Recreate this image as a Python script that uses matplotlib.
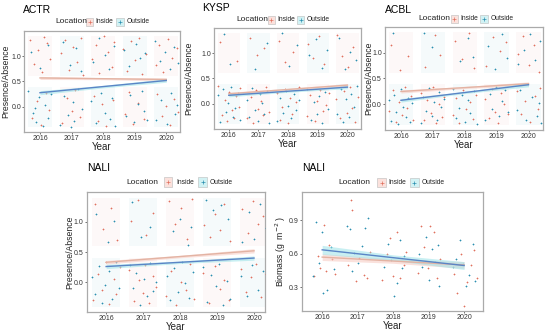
import matplotlib
matplotlib.use("Agg")
import matplotlib.pyplot as plt
from matplotlib.patches import Rectangle

plt.rcParams['font.family'] = ['Liberation Sans', 'DejaVu Sans']

years = [2016, 2017, 2018, 2019, 2020]
inside_col = '#e0705e'
outside_col = '#2a8fb0'

# ---------------- ACTR (presence / absence, jittered) ----------------
actr_in_x = [2015.68, 2015.82, 2015.95, 2016.07, 2016.21, 2016.33, 2016.14, 2015.74, 2015.90, 2016.03, 2016.18, 2016.30,
             2016.66, 2016.79, 2016.92, 2017.05, 2017.17, 2017.29, 2017.36, 2016.71, 2016.86, 2017.01, 2017.12, 2017.26,
             2017.64, 2017.77, 2017.88, 2018.02, 2018.14, 2018.27, 2018.35, 2017.70, 2017.84, 2017.97, 2018.10, 2018.31,
             2018.62, 2018.75, 2018.89, 2019.01, 2019.13, 2019.24, 2019.37, 2018.68, 2018.81, 2018.96, 2019.09, 2019.28,
             2019.66, 2019.78, 2019.91, 2020.06, 2020.19, 2020.33, 2019.72, 2019.85, 2019.99, 2020.12, 2020.25, 2020.36]
actr_in_y = [1.32, 0.85, 1.12, 0.68, 1.25, 0.94, 1.38, -0.22, 0.11, -0.35, 0.27, -0.05,
             1.05, 1.31, 0.72, 1.18, 0.88, 1.36, 0.63, -0.31, 0.18, -0.08, 0.33, -0.19,
             0.95, 1.22, 0.66, 1.39, 1.08, 0.78, 1.27, 0.21, -0.28, 0.05, -0.38, 0.14,
             1.14, 0.71, 1.29, 0.92, 1.36, 0.64, 1.03, -0.14, 0.29, -0.33, 0.08, -0.24,
             0.82, 1.21, 0.69, 1.33, 0.97, 1.16, 0.25, -0.17, 0.02, -0.36, 0.16, -0.09]
actr_out_x = [2015.71, 2015.99, 2016.26, 2015.63, 2015.77, 2015.87, 2015.97, 2016.09, 2016.16, 2016.24, 2016.35, 2015.83,
              2016.73, 2016.94, 2017.13, 2017.31, 2016.62, 2016.76, 2016.89, 2017.03, 2017.09, 2017.21, 2017.33, 2016.98,
              2017.67, 2017.86, 2018.05, 2018.19, 2018.34, 2017.63, 2017.79, 2017.93, 2018.07, 2018.22, 2018.29, 2018.38,
              2018.65, 2018.83, 2019.04, 2019.18, 2019.33, 2018.71, 2018.86, 2018.99, 2019.11, 2019.22, 2019.31, 2019.38,
              2019.64, 2019.81, 2019.95, 2020.11, 2020.24, 2020.37, 2019.69, 2019.83, 2020.02, 2020.15, 2020.28, 2020.34]
actr_out_y = [1.08, 0.76, 1.21, 0.31, -0.12, -0.29, 0.19, -0.37, 0.04, -0.21, 0.26, -0.02,
              1.27, 0.83, 1.15, 0.70, -0.36, 0.22, -0.15, 0.09, -0.27, 0.35, -0.04, -0.39,
              0.89, 1.35, 1.02, 0.74, 1.19, 0.12, -0.32, 0.28, -0.11, -0.24, 0.17, -0.37,
              1.12, 0.81, 1.24, 0.97, 1.05, -0.18, 0.24, -0.30, 0.06, 0.31, -0.08, -0.26,
              1.29, 0.90, 1.07, 0.75, 1.18, 0.86, -0.26, 0.13, -0.34, 0.27, -0.13, 0.04]

# ---------------- KYSP ----------------
kysp_in_x = [2015.72, 2016.28, 2015.64, 2015.76, 2015.86, 2015.94, 2016.02, 2016.10, 2016.17, 2016.23, 2016.33, 2016.38,
             2016.70, 2016.95, 2017.20, 2016.63, 2016.74, 2016.82, 2016.91, 2017.00, 2017.08, 2017.16, 2017.27, 2017.35,
             2017.68, 2017.90, 2018.16, 2017.62, 2017.72, 2017.80, 2017.88, 2017.98, 2018.06, 2018.14, 2018.25, 2018.36,
             2018.66, 2018.84, 2019.03, 2019.22, 2018.62, 2018.74, 2018.90, 2018.99, 2019.08, 2019.17, 2019.29, 2019.37,
             2019.65, 2019.80, 2020.02, 2020.20, 2019.63, 2019.74, 2019.88, 2019.97, 2020.08, 2020.16, 2020.27, 2020.36]
kysp_in_y = [1.21, 0.84, 0.36, -0.21, 0.08, -0.33, 0.24, -0.12, -0.27, 0.15, -0.05, 0.31,
             1.29, 0.97, 1.10, -0.28, 0.14, -0.37, 0.27, -0.09, 0.05, -0.22, 0.33, -0.16,
             1.24, 0.82, 1.02, 0.21, -0.31, -0.06, 0.29, -0.38, 0.11, -0.19, 0.03, 0.34,
             1.18, 0.90, 1.33, 0.78, -0.24, 0.17, -0.34, 0.06, 0.28, -0.14, -0.03, 0.22,
             1.36, 0.95, 0.73, 1.12, 0.09, -0.28, 0.25, -0.17, 0.33, -0.08, -0.35, 0.14]
kysp_out_x = [2015.85, 2016.05, 2015.62, 2015.70, 2015.80, 2015.90, 2015.99, 2016.08, 2016.14, 2016.21, 2016.30, 2016.37,
              2016.88, 2017.30, 2016.61, 2016.69, 2016.78, 2016.87, 2016.97, 2017.05, 2017.12, 2017.19, 2017.28, 2017.37,
              2017.78, 2018.04, 2018.30, 2017.64, 2017.74, 2017.84, 2017.93, 2018.01, 2018.10, 2018.19, 2018.28, 2018.38,
              2018.70, 2018.95, 2019.13, 2019.30, 2018.64, 2018.77, 2018.86, 2018.96, 2019.05, 2019.14, 2019.25, 2019.34,
              2019.70, 2019.92, 2020.10, 2020.30, 2019.66, 2019.78, 2019.86, 2019.95, 2020.04, 2020.13, 2020.22, 2020.33]
kysp_out_y = [1.38, 0.79, 0.18, -0.36, 0.29, -0.15, 0.02, 0.33, -0.25, -0.07, 0.21, -0.31,
              0.68, 1.20, 0.08, -0.25, 0.31, -0.11, -0.34, 0.19, 0.02, -0.20, 0.25, -0.38,
              1.39, 0.74, 1.15, -0.33, 0.12, -0.18, 0.26, -0.04, -0.27, 0.19, -0.12, 0.07,
              0.97, 1.27, 0.71, 1.05, 0.29, -0.32, 0.04, -0.19, 0.15, -0.37, 0.23, -0.10,
              1.30, 0.68, 1.02, 0.86, -0.20, 0.30, -0.35, 0.10, -0.26, 0.19, -0.06, 0.36]

# ---------------- ACBL ----------------
acbl_in_x = [2015.70, 2015.96, 2016.22, 2015.64, 2015.75, 2015.85, 2015.93, 2016.03, 2016.12, 2016.19, 2016.30, 2016.38,
             2016.74, 2017.06, 2017.22, 2016.63, 2016.72, 2016.83, 2016.93, 2017.02, 2017.10, 2017.18, 2017.29, 2017.36,
             2017.68, 2017.90, 2018.12, 2018.28, 2017.63, 2017.74, 2017.83, 2017.96, 2018.05, 2018.16, 2018.25, 2018.35,
             2018.68, 2018.88, 2019.10, 2019.28, 2018.63, 2018.76, 2018.86, 2018.95, 2019.05, 2019.15, 2019.24, 2019.36,
             2019.66, 2019.82, 2020.00, 2020.16, 2020.32, 2019.64, 2019.76, 2019.90, 2020.04, 2020.20, 2020.29, 2020.37]
acbl_in_y = [1.15, 0.66, 0.93, -0.12, 0.27, -0.34, 0.05, -0.21, 0.33, -0.06, 0.16, -0.29,
             0.72, 1.33, 0.95, 0.22, -0.30, 0.09, -0.17, 0.34, -0.36, 0.01, -0.24, 0.14,
             1.22, 0.88, 1.37, 0.71, -0.20, 0.13, -0.35, 0.28, -0.08, 0.04, -0.28, 0.19,
             0.74, 1.29, 1.02, 1.20, 0.11, -0.27, 0.30, -0.14, -0.36, 0.22, 0.00, -0.19,
             0.98, 1.31, 0.76, 1.14, 0.62, 0.25, -0.18, 0.06, -0.33, 0.17, -0.09, 0.32]
acbl_out_x = [2015.75, 2015.62, 2015.69, 2015.78, 2015.86, 2015.92, 2016.00, 2016.07, 2016.15, 2016.22, 2016.29, 2016.35,
              2016.72, 2016.98, 2016.62, 2016.70, 2016.80, 2016.88, 2016.96, 2017.04, 2017.12, 2017.20, 2017.27, 2017.35,
              2017.85, 2018.10, 2018.25, 2017.62, 2017.72, 2017.82, 2017.92, 2018.00, 2018.09, 2018.18, 2018.30, 2018.37,
              2018.72, 2018.94, 2019.16, 2019.33, 2018.65, 2018.78, 2018.87, 2018.97, 2019.07, 2019.17, 2019.26, 2019.35,
              2019.68, 2019.85, 2020.05, 2020.20, 2020.35, 2019.63, 2019.74, 2019.92, 2020.10, 2020.26, 2020.33, 2020.39]
acbl_out_y = [1.37, 0.08, -0.31, 0.19, -0.15, -0.37, 0.29, -0.04, -0.24, 0.12, -0.33, 0.02,
              1.38, 1.10, -0.36, 0.15, -0.12, 0.32, -0.22, 0.05, -0.30, 0.24, -0.05, 0.11,
              0.84, 1.28, 0.92, 0.30, -0.26, -0.06, 0.18, -0.33, 0.09, -0.17, 0.25, -0.38,
              1.13, 0.68, 1.36, 0.90, -0.30, 0.21, -0.09, 0.33, -0.23, 0.07, 0.27, -0.15,
              0.77, 1.05, 1.35, 0.85, 1.22, -0.11, 0.28, -0.30, 0.14, -0.22, 0.02, -0.36]

# ---------------- NALI presence / absence ----------------
nali_in_x = [2015.70, 2015.92, 2016.12, 2016.30, 2015.64, 2015.78, 2015.88, 2016.00, 2016.08, 2016.20, 2016.27, 2016.37,
             2016.66, 2016.86, 2017.08, 2017.26, 2016.62, 2016.75, 2016.90, 2016.99, 2017.06, 2017.17, 2017.28, 2017.36,
             2017.70, 2017.86, 2018.02, 2018.18, 2018.33, 2017.63, 2017.76, 2017.90, 2018.03, 2018.15, 2018.27, 2018.37,
             2018.66, 2018.80, 2018.95, 2019.08, 2019.20, 2019.34, 2018.63, 2018.78, 2018.94, 2019.07, 2019.20, 2019.32,
             2019.67, 2019.83, 2019.98, 2020.12, 2020.25, 2020.36, 2019.64, 2019.79, 2019.93, 2020.06, 2020.18, 2020.32]
nali_in_y = [1.30, 0.88, 1.22, 0.70, -0.29, 0.14, -0.12, 0.33, -0.36, 0.05, -0.20, 0.25,
             1.02, 1.36, 0.78, 1.14, 0.20, -0.31, 0.03, -0.18, 0.29, -0.35, 0.10, -0.08,
             1.34, 0.96, 1.22, 0.71, 1.38, -0.23, 0.18, -0.37, 0.01, -0.13, 0.30, -0.28,
             0.95, 0.74, 1.12, 0.87, 1.30, 0.68, 0.15, -0.34, 0.27, -0.11, 0.04, -0.30,
             1.21, 0.82, 1.35, 0.97, 1.10, 0.73, 0.22, -0.16, 0.08, 0.30, -0.25, 0.13]
nali_out_x = [2015.73, 2016.05, 2016.22, 2015.62, 2015.70, 2015.80, 2015.90, 2015.98, 2016.07, 2016.16, 2016.26, 2016.34,
              2016.70, 2016.95, 2017.20, 2016.64, 2016.73, 2016.82, 2016.92, 2017.02, 2017.10, 2017.18, 2017.27, 2017.35,
              2017.80, 2018.00, 2018.22, 2018.30, 2017.64, 2017.73, 2017.84, 2017.94, 2018.05, 2018.14, 2018.24, 2018.36,
              2018.70, 2018.90, 2019.12, 2019.30, 2018.62, 2018.72, 2018.84, 2018.97, 2019.05, 2019.16, 2019.26, 2019.34,
              2019.68, 2019.86, 2020.00, 2020.16, 2020.32, 2019.65, 2019.80, 2019.95, 2020.10, 2020.24, 2020.35, 2020.38]
nali_out_y = [1.12, 0.66, 1.01, 0.09, -0.20, 0.27, -0.35, -0.05, 0.18, -0.28, 0.34, -0.10,
              1.33, 0.74, 0.92, 0.28, -0.09, 0.15, -0.37, 0.06, -0.23, 0.32, -0.14, 0.01,
              0.84, 1.05, 0.62, 0.92, 0.11, -0.30, 0.24, -0.16, 0.33, -0.02, -0.26, 0.17,
              1.36, 1.20, 1.28, 1.05, 0.25, -0.33, 0.12, -0.06, 0.30, -0.38, 0.02, -0.28,
              0.66, 1.16, 0.71, 1.30, 0.90, 0.10, -0.22, 0.28, -0.12, 0.19, -0.31, 0.04]

# ---------------- NALI biomass ----------------
bio_in_x = [2015.78, 2015.95, 2016.05, 2016.12, 2016.20, 2016.28, 2016.35, 2015.88,
            2016.72, 2016.80, 2016.85, 2016.95, 2017.05, 2017.18, 2017.25, 2017.34,
            2017.70, 2017.82, 2017.90, 2018.00, 2018.10, 2018.20, 2018.30, 2018.35,
            2018.70, 2018.78, 2018.88, 2018.97, 2019.05, 2019.15, 2019.25, 2019.33,
            2019.72, 2019.80, 2019.90, 2020.00, 2020.08, 2020.20, 2020.28, 2020.35]
bio_in_y = [0.40, 0.47, 0.86, 0.45, 0.68, 0.55, 0.42, 0.58,
            0.50, 1.08, 0.99, 0.36, 0.56, 0.41, 0.38, 0.62,
            0.37, 0.60, 0.74, 0.40, 0.79, 0.38, 0.50, 0.62,
            0.43, 0.85, 0.66, 0.47, 0.85, 0.79, 0.38, 0.55,
            0.42, 0.25, 0.60, 0.13, 0.35, 0.50, 0.63, 0.38]
bio_out_x = [2015.75, 2015.82, 2015.91, 2016.00, 2016.02, 2016.15, 2016.24, 2016.32,
             2016.70, 2016.78, 2016.83, 2016.90, 2017.00, 2017.12, 2017.22, 2017.30,
             2017.75, 2017.86, 2017.95, 2018.03, 2018.12, 2018.18, 2018.26, 2018.32,
             2018.72, 2018.82, 2018.92, 2019.00, 2019.10, 2019.18, 2019.27, 2019.30,
             2019.70, 2019.78, 2019.88, 2019.98, 2020.05, 2020.15, 2020.24, 2020.30]
bio_out_y = [0.40, 0.88, 0.52, 0.79, 0.25, 0.28, 0.66, 0.46,
             0.85, 0.82, 0.45, 0.61, 0.52, 0.67, 0.83, 0.92,
             0.48, 0.69, 0.54, 0.22, 0.34, 0.72, 0.47, 0.58,
             0.60, 0.48, 0.75, 0.37, 0.64, 0.53, 0.68, 0.31,
             0.48, 0.55, 0.72, 0.51, 0.31, 0.41, 0.69, 0.36]

# fitted trend (2016, 2018, 2020) and ribbon half-widths
trend_x = [2016, 2018, 2020]
actr_in_fit, actr_in_se = [0.57, 0.555, 0.54], [0.03, 0.02, 0.03]
actr_out_fit, actr_out_se = [0.28, 0.40, 0.52], [0.04, 0.025, 0.035]
kysp_in_fit, kysp_in_se = [0.20, 0.285, 0.37], [0.03, 0.02, 0.03]
kysp_out_fit, kysp_out_se = [0.17, 0.25, 0.33], [0.03, 0.02, 0.03]
acbl_in_fit, acbl_in_se = [0.25, 0.325, 0.40], [0.03, 0.02, 0.035]
acbl_out_fit, acbl_out_se = [0.08, 0.23, 0.38], [0.035, 0.02, 0.04]
nali_in_fit, nali_in_se = [0.33, 0.425, 0.52], [0.03, 0.02, 0.035]
nali_out_fit, nali_out_se = [0.26, 0.33, 0.40], [0.035, 0.02, 0.035]
bio_in_fit, bio_in_se = [0.57, 0.535, 0.50], [0.03, 0.02, 0.03]
bio_out_fit, bio_out_se = [0.635, 0.565, 0.495], [0.04, 0.025, 0.035]

fig = plt.figure(figsize=(5.5, 3.34), dpi=100)


def style_axes(ax, xlim, ylim, yticks, ylabel, label_x):
    ax.set_xlim(*xlim)
    ax.set_ylim(*ylim)
    ax.set_xticks(years)
    ax.set_yticks(yticks)
    ax.set_yticklabels(['%.1f' % t for t in yticks])
    ax.tick_params(labelsize=5, colors='#555555', length=1.5, width=0.6, pad=0.8)
    for lab in ax.get_xticklabels() + ax.get_yticklabels():
        lab.set_color('#333333')
    for s in ax.spines.values():
        s.set_color('#aaaaaa')
        s.set_linewidth(0.9)
    ax.set_xlabel('Year', fontsize=7, color='#222222', labelpad=0)
    ax.set_ylabel(ylabel, fontsize=6.2, color='#222222')
    ax.yaxis.set_label_coords(label_x, 0.5)


def add_legend(ax, lx, kx1, tx1, kx2, tx2, ly):
    ax.text(lx, ly, 'Location', transform=ax.transAxes, fontsize=6,
            va='center', ha='left', color='#222222')
    for kx, tx, fc, col, lab in [(kx1, tx1, '#fbe1dc', inside_col, 'Inside'),
                                 (kx2, tx2, '#d2f2f4', outside_col, 'Outside')]:
        ax.add_patch(Rectangle((kx - 0.025, ly - 0.04), 0.05, 0.08, transform=ax.transAxes,
                               facecolor=fc, edgecolor='#bbbbbb', lw=0.4, clip_on=False))
        ax.plot([kx], [ly], marker='+', ms=3, mew=0.5, color=col,
                transform=ax.transAxes, clip_on=False)
        ax.text(tx, ly, lab, transform=ax.transAxes, fontsize=4.8,
                va='center', ha='left', color='#222222')


def draw_fit(ax, fit, se, fill, line):
    lo = [f - s for f, s in zip(fit, se)]
    hi = [f + s for f, s in zip(fit, se)]
    ax.fill_between(trend_x, lo, hi, color=fill, alpha=0.55, lw=0, zorder=4)
    ax.plot(trend_x, fit, color=line, lw=1.0, zorder=5)


def draw_pa(ax, in_x, in_y, out_x, out_y, in_fit, in_se, out_fit, out_se):
    # faint tinted bands behind each jitter cloud
    for i, yr in enumerate(years):
        for c in (0, 1):
            col = inside_col if (i + c) % 2 else outside_col
            ax.add_patch(Rectangle((yr - 0.38, c - 0.4), 0.76, 0.8,
                                   facecolor=col, alpha=0.045, lw=0))
    ax.scatter(in_x, in_y, marker='+', s=4, lw=0.5, color=inside_col, zorder=3)
    ax.scatter(out_x, out_y, marker='+', s=4, lw=0.5, color=outside_col, zorder=3)
    draw_fit(ax, in_fit, in_se, '#f6c9c0', '#e3b3a3')
    draw_fit(ax, out_fit, out_se, '#9be3e8', '#5a85c6')


pa_ylim = (-0.49, 1.49)
pa_ticks = [0.0, 0.5, 1.0]

# top row
ax1 = fig.add_axes([0.044, 0.605, 0.283, 0.302])
draw_pa(ax1, actr_in_x, actr_in_y, actr_out_x, actr_out_y,
        actr_in_fit, actr_in_se, actr_out_fit, actr_out_se)
style_axes(ax1, (2015.5, 2020.43), pa_ylim, pa_ticks, 'Presence/Absence', -0.092)
ax1.text(-0.01, 1.21, 'ACTR', transform=ax1.transAxes, fontsize=7.5, va='center', ha='left')
add_legend(ax1, 0.20, 0.42, 0.46, 0.615, 0.655, 1.09)

ax2 = fig.add_axes([0.389, 0.614, 0.267, 0.302])
draw_pa(ax2, kysp_in_x, kysp_in_y, kysp_out_x, kysp_out_y,
        kysp_in_fit, kysp_in_se, kysp_out_fit, kysp_out_se)
style_axes(ax2, (2015.5, 2020.45), pa_ylim, pa_ticks, 'Presence/Absence', -0.143)
ax2.text(-0.08, 1.2, 'KYSP', transform=ax2.transAxes, fontsize=7.5, va='center', ha='left')
add_legend(ax2, 0.15, 0.39, 0.43, 0.59, 0.63, 1.08)

ax3 = fig.add_axes([0.70, 0.611, 0.287, 0.308])
draw_pa(ax3, acbl_in_x, acbl_in_y, acbl_out_x, acbl_out_y,
        acbl_in_fit, acbl_in_se, acbl_out_fit, acbl_out_se)
style_axes(ax3, (2015.5, 2020.45), pa_ylim, pa_ticks, 'Presence/Absence', -0.076)
ax3.text(0.0, 1.17, 'ACBL', transform=ax3.transAxes, fontsize=7.5, va='center', ha='left')
add_legend(ax3, 0.21, 0.44, 0.48, 0.63, 0.67, 1.08)

# bottom row
ax4 = fig.add_axes([0.158, 0.066, 0.324, 0.359])
draw_pa(ax4, nali_in_x, nali_in_y, nali_out_x, nali_out_y,
        nali_in_fit, nali_in_se, nali_out_fit, nali_out_se)
style_axes(ax4, (2015.48, 2020.3), pa_ylim, pa_ticks, 'Presence/Absence', -0.073)
ax4.text(0.0, 1.2, 'NALI', transform=ax4.transAxes, fontsize=7.5, va='center', ha='left')
add_legend(ax4, 0.22, 0.455, 0.50, 0.65, 0.69, 1.083)

ax5 = fig.add_axes([0.549, 0.069, 0.329, 0.356])
ax5.scatter(bio_in_x, bio_in_y, marker='+', s=4, lw=0.5, color=inside_col, zorder=3)
ax5.scatter(bio_out_x, bio_out_y, marker='+', s=4, lw=0.5, color=outside_col, zorder=3)
draw_fit(ax5, bio_in_fit, bio_in_se, '#f6c9c0', '#e3b3a3')
draw_fit(ax5, bio_out_fit, bio_out_se, '#9be3e8', '#5a85c6')
style_axes(ax5, (2015.43, 2020.53), (0.09, 1.15), [0.3, 0.6, 0.9],
           'Biomass (g  m$^{-2}$ )', -0.077)
ax5.text(0.0, 1.2, 'NALI', transform=ax5.transAxes, fontsize=7.5, va='center', ha='left')
add_legend(ax5, 0.20, 0.44, 0.48, 0.62, 0.66, 1.08)

fig.savefig('out.png', dpi=100)
